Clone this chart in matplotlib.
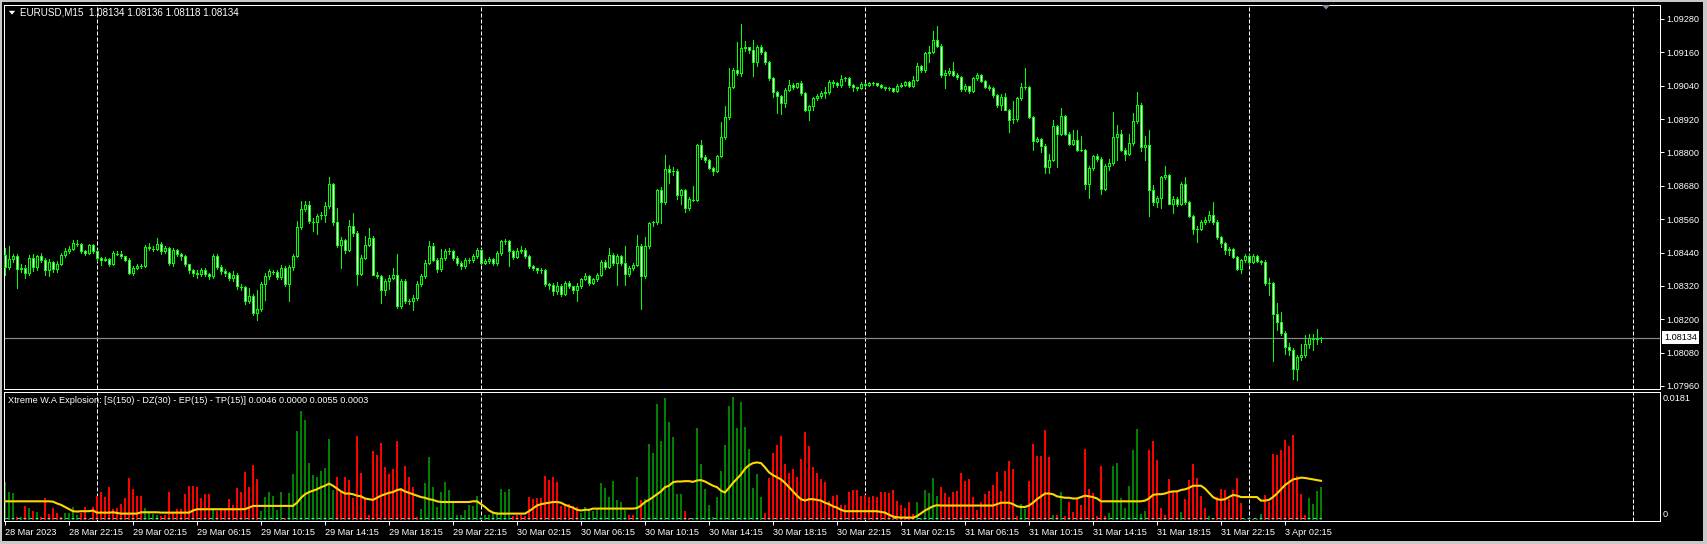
import matplotlib
matplotlib.use("Agg")
import matplotlib.pyplot as plt
from matplotlib.patches import Rectangle, Polygon
from matplotlib.collections import LineCollection
import matplotlib.transforms as mtransforms

plt.rcParams['font.family'] = ['Liberation Sans', 'DejaVu Sans']

# ---------------- data ----------------
SYMBOL = "EURUSD,M15"
PRICE_BASE = 1.08000
PIP = 0.0001
first_open_pips = 43.0

close_pips = [
    38.8, 41.6, 42.6, 38.0, 38.5, 36.6, 42.0, 38.8, 42.6, 41.4,
    37.6, 40.5, 38.0, 40.0, 43.2, 44.4, 45.4, 47.4, 47.2, 44.4,
    44.0, 46.6, 44.4, 42.0, 41.4, 41.8, 39.8, 43.8, 43.6, 42.6,
    41.4, 36.8, 38.4, 39.0, 39.0, 46.0, 45.6, 45.4, 47.0, 44.4,
    45.5, 40.2, 45.0, 43.6, 42.8, 39.8, 37.6, 36.8, 36.2, 37.8,
    36.2, 35.4, 42.8, 38.8, 37.2, 36.8, 35.0, 36.0, 31.8, 31.6,
    26.4, 28.4, 22.4, 23.6, 32.6, 35.6, 37.2, 37.0, 35.2, 38.4,
    32.6, 38.8, 42.8, 53.0, 59.6, 61.0, 55.2, 55.0, 57.2, 57.4,
    60.8, 68.6, 54.8, 46.6, 48.4, 45.0, 53.6, 51.0, 36.4, 42.2,
    46.8, 49.2, 36.0, 35.6, 30.6, 33.8, 35.0, 36.0, 24.6, 33.8,
    26.4, 26.6, 27.8, 32.6, 35.4, 40.4, 46.4, 41.4, 38.0, 42.0,
    44.6, 44.4, 42.0, 40.2, 39.0, 41.4, 41.2, 42.6, 45.0, 40.4,
    41.0, 41.6, 40.2, 43.8, 48.0, 48.2, 44.6, 42.4, 44.4, 45.0,
    42.8, 39.0, 38.4, 37.8, 37.6, 32.6, 32.2, 30.0, 32.0, 29.0,
    33.0, 31.8, 30.6, 32.0, 34.4, 35.6, 33.0, 34.4, 36.0, 40.6,
    38.8, 43.2, 40.2, 42.8, 40.2, 36.2, 38.4, 39.6, 46.4, 35.4,
    46.2, 54.6, 54.8, 66.6, 62.2, 74.0, 73.0, 73.3, 64.8, 66.4,
    60.0, 63.2, 63.0, 82.6, 78.4, 77.4, 74.4, 73.4, 78.6, 85.4,
    92.8, 103.6, 109.8, 108.4, 117.4, 117.8, 116.8, 112.6, 117.8, 116.2,
    112.4, 106.6, 101.8, 100.2, 97.6, 102.6, 104.2, 103.6, 104.8, 101.2,
    95.2, 96.6, 99.6, 100.2, 101.2, 101.8, 105.2, 104.8, 104.2, 106.4,
    106.6, 104.2, 103.4, 103.0, 104.6, 104.2, 104.8, 104.8, 104.4, 103.4,
    103.0, 103.0, 102.0, 104.0, 104.4, 105.3, 103.8, 106.2, 111.2, 109.6,
    115.6, 116.2, 120.4, 118.4, 107.8, 108.6, 109.2, 107.8, 107.0, 102.8,
    103.8, 102.2, 106.6, 107.8, 105.8, 103.6, 103.0, 100.6, 97.0, 99.8,
    95.2, 91.8, 92.0, 99.4, 103.6, 103.4, 92.8, 84.2, 84.8, 82.4,
    74.8, 77.4, 89.4, 86.8, 93.0, 86.8, 83.2, 84.4, 80.8, 80.8,
    68.8, 74.4, 78.6, 77.8, 67.0, 75.2, 76.2, 85.6, 86.8, 81.0,
    79.4, 83.4, 91.2, 97.0, 82.0, 82.8, 66.6, 62.2, 63.6, 71.0,
    71.8, 61.6, 63.4, 61.6, 68.8, 62.2, 57.2, 52.6, 52.6, 55.0,
    55.6, 57.6, 55.0, 49.4, 47.4, 45.0, 45.4, 42.4, 38.0, 41.2,
    42.9, 40.6, 42.9, 41.0, 40.6, 33.2, 33.0, 22.0, 19.0, 15.2,
    10.0, 9.0, 2.2, 6.4, 7.2, 11.2, 13.2, 13.0, 13.4, 13.4,
]

high_pips = [
    45.6, 46.2, 43.5, 43.5, 40.0, 39.5, 43.0, 43.5, 43.0, 44.0,
    42.0, 41.5, 41.0, 41.0, 44.0, 45.5, 46.5, 48.6, 48.5, 47.5,
    45.0, 47.0, 47.0, 44.8, 42.5, 42.5, 42.0, 44.4, 44.6, 44.4,
    42.8, 42.0, 39.0, 39.8, 40.0, 46.6, 47.4, 46.4, 49.2, 47.8,
    46.5, 46.0, 45.6, 45.4, 44.0, 43.2, 40.0, 38.0, 37.6, 38.4,
    38.4, 36.6, 43.6, 43.4, 39.6, 38.0, 37.0, 37.2, 36.6, 32.6,
    32.0, 31.4, 29.0, 30.6, 33.4, 36.6, 38.0, 37.8, 37.6, 39.4,
    39.0, 39.4, 43.4, 55.4, 62.6, 62.6, 62.4, 56.4, 58.0, 58.6,
    62.0, 71.2, 69.0, 60.0, 49.6, 49.0, 55.8, 58.2, 51.6, 43.0,
    49.8, 52.8, 49.8, 37.0, 36.0, 34.6, 36.0, 38.4, 43.6, 34.6,
    34.4, 27.4, 28.6, 33.6, 36.4, 41.4, 48.0, 47.4, 42.0, 45.2,
    45.2, 45.6, 44.8, 42.6, 40.8, 42.0, 42.0, 43.4, 45.6, 45.4,
    41.8, 42.4, 42.2, 44.4, 48.6, 48.8, 48.6, 45.0, 45.6, 46.4,
    45.6, 43.2, 39.6, 38.6, 38.4, 38.0, 33.2, 33.0, 33.4, 32.6,
    33.6, 33.6, 32.0, 33.0, 35.0, 36.6, 36.0, 35.0, 36.6, 41.2,
    41.2, 45.8, 43.8, 43.6, 43.2, 46.2, 39.0, 40.4, 50.4, 47.0,
    49.6, 55.0, 55.4, 67.0, 67.6, 79.0, 75.6, 74.8, 74.0, 67.0,
    67.0, 64.0, 67.8, 83.2, 84.4, 79.0, 77.8, 74.8, 79.0, 91.0,
    96.6, 110.4, 110.2, 119.8, 126.2, 120.2, 117.8, 120.6, 118.6, 118.6,
    116.6, 112.8, 107.0, 102.2, 100.6, 103.0, 106.2, 105.0, 105.0, 105.6,
    101.6, 97.2, 100.0, 101.0, 102.0, 103.6, 106.0, 106.0, 105.4, 107.8,
    107.0, 107.0, 104.6, 103.6, 105.2, 105.0, 105.4, 105.2, 105.0, 104.6,
    103.6, 103.4, 103.2, 104.6, 105.0, 105.8, 105.6, 107.4, 112.0, 111.6,
    116.2, 118.2, 123.6, 125.4, 119.0, 109.6, 110.4, 112.4, 108.4, 107.6,
    104.6, 104.0, 107.0, 108.6, 108.2, 106.2, 104.2, 103.4, 101.0, 101.0,
    101.2, 95.6, 98.4, 100.0, 104.8, 110.2, 104.0, 93.2, 85.6, 85.2,
    83.0, 79.6, 91.6, 90.0, 95.8, 93.4, 87.4, 88.0, 88.0, 86.0,
    81.4, 75.2, 79.0, 79.4, 78.2, 76.0, 77.6, 94.6, 89.8, 88.0,
    81.6, 86.8, 94.0, 101.8, 97.6, 85.8, 88.0, 68.2, 64.4, 71.6,
    75.2, 72.2, 64.2, 64.0, 69.4, 71.2, 62.6, 57.6, 53.4, 55.8,
    56.6, 58.8, 62.2, 55.6, 49.8, 47.8, 46.0, 45.8, 42.8, 41.8,
    43.6, 43.4, 43.6, 43.2, 41.4, 41.2, 34.8, 33.4, 26.0, 22.6,
    15.8, 11.6, 9.6, 7.2, 11.0, 14.2, 14.6, 14.8, 16.6, 13.6,
]

low_pips = [
    36.0, 38.0, 40.5, 31.2, 37.0, 35.0, 36.0, 37.5, 37.8, 40.5,
    36.0, 35.4, 37.0, 37.0, 39.5, 42.5, 44.0, 44.8, 46.5, 43.8,
    43.0, 43.6, 44.0, 41.0, 39.5, 40.8, 39.0, 39.4, 43.0, 42.0,
    40.8, 36.4, 36.0, 38.0, 38.5, 38.8, 45.0, 44.6, 45.0, 43.4,
    43.8, 39.6, 39.0, 42.8, 41.4, 39.0, 36.8, 35.6, 35.0, 35.4,
    35.4, 34.4, 34.8, 38.0, 36.4, 35.6, 34.0, 33.8, 31.0, 30.6,
    25.6, 26.0, 21.6, 19.8, 23.0, 27.0, 34.4, 36.2, 34.4, 34.6,
    32.0, 26.4, 37.6, 42.4, 52.4, 59.0, 54.6, 51.6, 50.8, 56.2,
    55.0, 60.0, 54.0, 46.0, 38.6, 44.0, 44.4, 50.0, 32.4, 36.0,
    41.6, 46.4, 36.0, 34.8, 25.8, 28.6, 31.0, 34.4, 24.0, 24.0,
    25.8, 25.4, 23.2, 27.0, 32.0, 35.0, 40.0, 41.0, 37.0, 37.4,
    41.4, 43.4, 41.4, 39.6, 38.0, 38.6, 40.4, 40.6, 42.0, 39.8,
    39.8, 40.4, 39.4, 39.6, 43.0, 47.0, 39.2, 41.8, 42.0, 44.0,
    42.0, 38.4, 37.8, 36.6, 36.6, 32.0, 31.0, 28.8, 29.0, 28.2,
    28.6, 31.2, 29.6, 26.4, 31.4, 34.0, 32.4, 32.6, 33.8, 35.6,
    38.0, 38.4, 39.6, 32.4, 39.4, 32.4, 35.6, 37.6, 39.0, 23.6,
    35.0, 45.6, 53.6, 54.2, 54.6, 61.6, 69.0, 72.0, 63.2, 61.6,
    58.6, 59.4, 62.4, 62.6, 77.6, 76.6, 74.2, 71.8, 73.0, 78.2,
    85.0, 92.0, 103.0, 107.8, 107.4, 116.6, 115.8, 107.4, 111.0, 115.4,
    111.8, 106.2, 100.0, 94.2, 93.8, 96.2, 102.0, 102.8, 103.0, 100.8,
    94.8, 91.8, 95.4, 99.0, 99.6, 99.4, 101.0, 103.4, 103.4, 103.6,
    105.6, 103.6, 102.0, 102.4, 102.8, 103.6, 104.0, 104.2, 104.0, 103.0,
    102.4, 102.6, 101.6, 101.6, 103.4, 104.0, 103.4, 103.4, 105.8, 109.0,
    109.0, 112.6, 115.8, 118.0, 107.2, 103.2, 108.0, 107.4, 106.4, 102.2,
    102.0, 101.2, 101.6, 106.0, 105.2, 103.0, 102.4, 100.0, 96.4, 95.2,
    95.2, 87.4, 90.4, 91.4, 99.0, 102.8, 92.2, 80.8, 83.6, 80.2,
    72.6, 72.6, 77.0, 74.8, 86.2, 86.2, 82.8, 82.6, 80.6, 80.4,
    67.0, 63.6, 73.8, 77.0, 65.2, 66.4, 73.6, 75.6, 77.2, 80.4,
    77.2, 79.0, 82.8, 90.6, 80.6, 77.4, 57.0, 61.0, 60.4, 60.0,
    70.6, 61.6, 58.2, 60.6, 61.0, 61.6, 56.6, 50.8, 47.8, 52.0,
    54.4, 55.0, 54.4, 48.8, 46.0, 43.6, 43.0, 42.0, 37.6, 36.6,
    40.6, 40.0, 40.2, 40.6, 40.0, 32.2, 28.6, 5.0, 16.0, 14.4,
    7.6, 7.0, -1.4, -1.8, 5.4, 6.4, 9.6, 8.8, 11.0, 11.8,
]

price_ticks = [1.07960, 1.08080, 1.08200, 1.08320, 1.08440, 1.08560,
               1.08680, 1.08800, 1.08920, 1.09040, 1.09160, 1.09280]

time_tick_bars = [0, 16, 32, 48, 64, 80, 96, 112, 128, 144, 160,
                  176, 192, 208, 224, 240, 256, 272, 288, 304, 320]
time_tick_labels = ["28 Mar 2023", "28 Mar 22:15", "29 Mar 02:15", "29 Mar 06:15",
                    "29 Mar 10:15", "29 Mar 14:15", "29 Mar 18:15", "29 Mar 22:15",
                    "30 Mar 02:15", "30 Mar 06:15", "30 Mar 10:15", "30 Mar 14:15",
                    "30 Mar 18:15", "30 Mar 22:15", "31 Mar 02:15", "31 Mar 06:15",
                    "31 Mar 10:15", "31 Mar 14:15", "31 Mar 18:15", "31 Mar 22:15",
                    "3 Apr 02:15"]

separator_bars = [23, 119, 215, 311, 407]

# indicator histogram, in units of 0.0001
hist_vals = [
    53.9, 38.8, 38.3, 4.3, 3.3, 19.4, 17, 12.3, 10.4, 4.3,
    31.2, 7.6, 16, 9.9, 3.3, 9, 9, 18, 6.6, 9.9,
    18, 0.5, 17.5, 33.6, 39.2, 32.6, 46.8, 15.1, 16, 22.2,
    31.2, 58.6, 43.5, 34, 33, 17, 9, 8, 6.6, 5.2,
    6.6, 39.7, 11.3, 14.6, 15.1, 35.9, 47.7, 47.7, 45.8, 31.2,
    36.4, 36.4, 17, 11.8, 16, 16, 29.3, 20.3, 44.4, 39.7,
    67.6, 46.3, 77, 57.7, 12.3, 31.7, 39.2, 33, 13.7, 38.8,
    2.8, 37.3, 64.7, 126, 154, 141, 80.8, 63.3, 61, 69,
    72.8, 114, 42, 61, 38.8, 60, 56.2, 30.2, 118.6, 66.6,
    28.8, 6.6, 97.4, 91.7, 109, 74.2, 64.3, 71.4, 110.6, 45.4,
    76, 61, 45.8, 4.3, 15.1, 51.5, 88.4, 46.8, 18.4, 39.7,
    53.4, 42, 24.1, 6.6, 6.6, 13.7, 20.8, 19.8, 33.6, 4.3,
    6.6, 6.6, 9, 10.4, 43.3, 39.5, 43.3, 5.2, 7.1, 7.1,
    4.8, 31.9, 29, 30, 31, 62.4, 56.2, 61, 53.8, 19.5,
    22.8, 22.8, 19.5, 18, 10, 18, 15.7, 11.9, 15.7, 51.4,
    44.3, 32.4, 54.7, 27.6, 25.2, 13.3, 7.1, 6.2, 61, 27.6,
    29, 107, 94, 164, 111, 172, 138, 117, 37, 37,
    12.4, 2, 2, 130, 78.5, 44, 21, 4, 32, 69.5,
    105, 161, 173, 130, 167, 131, 99.5, 45, 64, 32,
    10, 59.5, 95, 106, 118, 78.5, 66.6, 71.4, 61, 85.7,
    124, 104, 75, 66.6, 57, 53, 26, 34, 35, 20.5,
    21.4, 39.5, 42, 42, 34, 35, 32, 33, 32, 38.6,
    39.5, 38, 42, 26.7, 20.5, 16.7, 25, 8.6, 25, 3,
    42, 38, 59.5, 34, 46.6, 38, 32, 39.5, 40.5, 66.6,
    54.7, 57.6, 32, 13.3, 25, 37, 40.5, 49, 68, 41,
    69.5, 82.3, 71.4, 5.2, 22, 15.7, 55.2, 107, 89.5, 89.5,
    126.6, 88, 7, 7, 39.5, 5, 25, 11, 31, 20.5,
    100, 44, 38, 5, 76.6, 5, 10, 76.6, 80, 31,
    16.7, 47.6, 98, 128.5, 8.6, 12.4, 98, 111, 84, 16.7,
    7, 57.6, 41, 39.5, 11, 29, 56, 78.5, 59.5, 33,
    16.7, 5, 2.4, 32, 43, 42, 29, 42, 59.5, 24,
    1.5, 1.5, 1, 1.5, 7.6, 35, 25, 93, 91, 99,
    112, 104, 119.5, 62, 37, 6, 31, 22, 41, 46,
]

hist_colors = (
    "GGGRGRGRGR" "RRRRRGGGGR" "RRRRRRRRRR" "RRRRRGGGGR"
    "RRRRRRRRRR" "RRGRRRRRRR" "RRRRGGGGGG" "RGGGGGGGGG"
    "GGGRRRRRRR" "RRRRRRRRRR" "RRRRGGGGGG" "GGGGGGGGGG"
    "GGGGGGGRRR" "RRRRRRRRRR" "RRRRGGGGGG" "GGGGGGRRGR"
    "GGGGGGGGGG" "RRGGGGGGGG" "GGGGGGGGGG" "RRRRRRRRRR"
    "RRRRRRRRRR" "RRRRRRRRRR" "RRRRRRRRGG" "GGGGRRRRRR"
    "RRRRRRRRRR" "RRRRGGRRRR" "RRGRGRRRRR" "RRRRRRGGGG"
    "GGGGGGRRRR" "RRRRGRRRRR" "RGRRRRRRRR" "GGRGGRRRRR"
    "RRRRRRGGGG"
)

# explosion line (yellow), in units of 0.0001
explosion_line = [
    26, 26, 26, 26, 26, 26, 26, 26, 26, 26,
    26, 26, 25.5, 23, 21, 18, 15, 12, 11.5, 12,
    12, 12, 13, 10, 10, 10, 10, 10.5, 9.5, 8.6,
    8.6, 8.6, 8.6, 8.6, 10.5, 10.5, 10.5, 10.5, 10.5, 10,
    10, 10, 10, 10, 10, 10, 10, 13, 14.8, 14.8,
    14.8, 14.8, 14.8, 14.8, 14.8, 14.8, 14.8, 14.8, 14.8, 14.8,
    15, 17, 19.5, 19.5, 19.5, 19.5, 19.5, 19.5, 19.5, 19.5,
    19.5, 19.5, 19.5, 24, 31, 36, 39, 41, 43, 46,
    48, 51, 48, 44, 40, 37, 37, 36, 34, 33,
    30, 29, 28, 31, 34, 36, 38, 39, 42, 43,
    40, 38, 36, 34, 32, 31, 29, 28, 26, 25,
    25, 25, 25, 25, 25, 25, 25, 26, 26, 22,
    18, 13, 10, 8.6, 8.6, 8.6, 8.6, 8.6, 8.6, 8.6,
    8.6, 12, 16, 20, 22, 23, 24, 25, 25, 24,
    21, 19, 17, 14, 13, 14, 14, 15.7, 15.7, 15.7,
    15.7, 15.7, 15.7, 15.7, 15.7, 15.7, 15.7, 15.7, 16.5, 20,
    25, 28, 32, 36, 40, 46, 48, 53, 54, 54,
    54.5, 54.5, 53.5, 55.5, 56, 54, 51, 48, 46, 41,
    38.5, 45, 52, 58, 64, 72, 77, 80, 81, 80,
    74, 67, 63, 60, 57, 52, 46, 40, 34, 29,
    27, 29, 29, 28, 27, 24, 22, 19, 17, 14,
    12, 12, 12, 12, 12, 12, 12, 12, 12, 11,
    10, 7, 4.5, 3.5, 3, 3, 2.9, 3, 5, 9,
    13, 16, 19, 20.5, 20, 20, 20, 20, 20, 20,
    20, 20, 20, 20, 20, 20, 20, 20, 22, 24,
    24, 24, 22, 19, 18, 18, 20, 24, 29, 33,
    37, 37, 36, 33, 32, 31, 31, 30, 30, 32,
    34, 33, 32, 30, 26, 26, 26, 26, 26, 26,
    26, 26, 26, 26, 26, 27, 30, 35, 36, 36,
    37, 39, 40, 40, 42, 43, 45, 48, 48, 48,
    44, 38, 32, 29, 28, 29, 32, 35, 34, 32,
    32, 32, 32, 32, 27, 27, 28, 32, 37, 43,
    49, 53, 57, 58, 59.5, 59, 58, 57, 56, 55,
]

DEAD_ZONE = 3.0          # 0.0003
IND_UNIT = 0.0001
IND_MAX = 0.0181
IND_NAME = "Xtreme W.A Explosion: [S(150) - DZ(30) - EP(15) - TP(15)]"

# ---------------- figure ----------------
W, H = 1707, 544
DPI = 100
PX = 72.0 / DPI  # one pixel in points
fig = plt.figure(figsize=(W / DPI, H / DPI), dpi=DPI, facecolor='black')


def rect(l, t, r, b):
    return [l / W, 1 - b / H, (r - l) / W, (b - t) / H]


def fx(x):
    return x / W


def fy(y):
    return 1 - y / H


LIME = '#00FF00'
FS = 6.6
FS_TITLE = 7.1
n = min(len(close_pips), len(high_pips), len(low_pips))

ax = fig.add_axes(rect(3.5, 4.5, 1659.5, 389.3))
axi = fig.add_axes(rect(3.5, 391.7, 1659.5, 521.0))
XL = (-0.375, 413.625)

# ---- main panel ----
ax.set_facecolor('black')
ax.set_xlim(*XL)
ax.set_ylim(1.07948, 1.09332)

opens = [first_open_pips] + close_pips[:n - 1]
O = [PRICE_BASE + v * PIP for v in opens]
C = [PRICE_BASE + v * PIP for v in close_pips[:n]]
Hh = [PRICE_BASE + v * PIP for v in high_pips[:n]]
Ll = [PRICE_BASE + v * PIP for v in low_pips[:n]]

wicks = [[(i, Ll[i]), (i, Hh[i])] for i in range(n)]
ax.add_collection(LineCollection(wicks, colors=LIME, linewidths=PX,
                                 antialiaseds=False, zorder=2))
dojis = []
for i in range(n):
    o, c = O[i], C[i]
    if abs(c - o) < 0.3 * PIP:
        dojis.append([(i - 0.3, c), (i + 0.3, c)])
        continue
    fc = 'black' if c > o else 'white'
    ax.add_patch(Rectangle((i - 0.25, min(o, c)), 0.5, abs(c - o),
                           facecolor=fc, edgecolor=LIME, linewidth=PX,
                           antialiased=False, zorder=3))
ax.add_collection(LineCollection(dojis, colors=LIME, linewidths=PX,
                                 antialiaseds=False, zorder=3))

last_price = C[n - 1]
ax.axhline(last_price, color='#8a8a8a', lw=PX * 1.2, zorder=1)

for b in separator_bars:
    ax.axvline(b, color='white', lw=PX, ls=(0, (4, 2)), zorder=0.5)
    axi.axvline(b, color='white', lw=PX, ls=(0, (4, 2)), zorder=0.5)

ax.set_xticks([])
ax.yaxis.tick_right()
ax.set_yticks(price_ticks)
ax.set_yticklabels([f"{p:.5f}" for p in price_ticks])
ax.tick_params(axis='y', colors='white', labelsize=FS, length=3, width=PX, pad=2)
for s in ax.spines.values():
    s.set_color('white')
    s.set_linewidth(PX)

trans = mtransforms.blended_transform_factory(ax.transAxes, ax.transData)
ax.text(1 + 4.5 / 1656, last_price, f"{last_price:.5f}", transform=trans,
        ha='left', va='center', fontsize=FS, color='black',
        bbox=dict(facecolor='white', edgecolor='none', pad=1.2),
        clip_on=False, zorder=5)

# ---- indicator panel ----
axi.set_facecolor('black')
axi.set_xlim(*XL)
axi.set_ylim(-1.84, IND_MAX / IND_UNIT)
cmap = {'G': '#008000', 'R': '#FF0000'}
m = min(len(hist_vals), len(hist_colors))
axi.bar(range(m), hist_vals[:m], width=0.7,
        color=[cmap[ch] for ch in hist_colors[:m]], linewidth=0,
        antialiased=False, zorder=2)
axi.hlines(DEAD_ZONE, 0, n - 1, colors='#40E0D0', linestyles=(0, (3, 3)),
           lw=PX, zorder=2.5)
axi.plot(range(len(explosion_line)), explosion_line, color='#FFD700',
         lw=1.5, zorder=3, solid_joinstyle='miter')

axi.set_yticks([])
axi.set_xticks(time_tick_bars)
axi.set_xticklabels(time_tick_labels, ha='left')
axi.tick_params(axis='x', colors='white', labelsize=FS, length=3, width=PX, pad=2)
for s in axi.spines.values():
    s.set_color('white')
    s.set_linewidth(PX)

# ---- texts ----
title = f"{SYMBOL}  {O[n-1]:.5f} {Hh[n-1]:.5f} {Ll[n-1]:.5f} {C[n-1]:.5f}"
fig.text(fx(20.5), fy(12.8), title, color='white', fontsize=FS_TITLE, va='center', ha='left')
last_col = hist_colors[m - 1]
g_last = hist_vals[m - 1] if last_col == 'G' else 0.0
r_last = hist_vals[m - 1] if last_col == 'R' else 0.0
ind_label = (f"{IND_NAME} {g_last * IND_UNIT:.4f} {r_last * IND_UNIT:.4f} "
             f"{explosion_line[-1] * IND_UNIT:.4f} {DEAD_ZONE * IND_UNIT:.4f}")
fig.text(fx(8.5), fy(400.8), ind_label, color='white', fontsize=FS, va='center', ha='left')
fig.text(fx(1663), fy(398.5), f"{IND_MAX:.4f}", color='white', fontsize=FS, va='center', ha='left')
fig.text(fx(1663), fy(514.5), "0", color='white', fontsize=FS, va='center', ha='left')

# ---- decorations: window frame and markers ----
frame_col = '#c8c8c8'
for (l, t, r, b) in [(0, 0, W, 2), (0, 0, 2, H), (1703, 0, W, H), (0, 541, W, H)]:
    fig.patches.append(Rectangle((fx(l), fy(b)), (r - l) / W, (b - t) / H,
                                 transform=fig.transFigure, facecolor=frame_col,
                                 edgecolor='none', zorder=10))
fig.patches.append(Polygon([(fx(8.8), fy(10.8)), (fx(15.2), fy(10.8)), (fx(12.0), fy(14.6))],
                           closed=True, transform=fig.transFigure, facecolor='white',
                           edgecolor='none', zorder=10))
fig.patches.append(Polygon([(fx(1322), fy(5)), (fx(1330), fy(5)), (fx(1326), fy(9.5))],
                           closed=True, transform=fig.transFigure, facecolor='#7f8fa0',
                           edgecolor='none', zorder=10))

fig.savefig('out.png', dpi=DPI, facecolor='black')
